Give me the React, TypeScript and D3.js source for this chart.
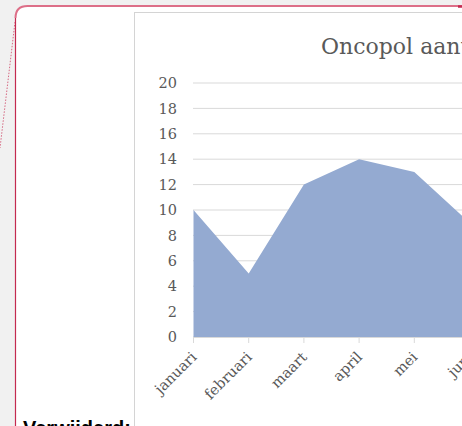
import React from "react";
import * as d3 from "d3";

const months = ["januari", "februari", "maart", "april", "mei", "juni"];
const counts = [10, 5, 12, 14, 13, 9];
const yTicks = [0, 2, 4, 6, 8, 10, 12, 14, 16, 18, 20];
const title = "Oncopol aantallen";
const balloonLabel = "Verwijderd:";

const W = 462;
const H = 426;

export default function App() {
  const x = d3
    .scalePoint<string>()
    .domain(months)
    .range([193.5, 193.5 + 55.2 * (months.length - 1)]);
  const y = d3.scaleLinear().domain([0, 20]).range([337, 83]);

  const area = d3
    .area<number>()
    .x((_, i) => x(months[i]) as number)
    .y0(y(0))
    .y1((d) => y(d));

  const serif = "'DejaVu Serif', serif";

  return (
    <div style={{ position: "fixed", left: 0, top: 0, width: W, height: H, overflow: "hidden" }}>
      <svg width={W} height={H} style={{ display: "block" }}>
        <rect x={0} y={0} width={W} height={H} fill="#f1f1f1" />
        {/* dotted connector */}
        <line x1={15} y1={22} x2={0} y2={148} stroke="#d04868" strokeWidth={1} strokeDasharray="1.5,1.5" opacity={0.8} />
        {/* balloon */}
        <path
          d={`M15.5,${H + 20} L15.5,16 Q15.5,6 25.5,6 L${W + 20},6 L${W + 20},${H + 20} Z`}
          fill="#ffffff"
          stroke="none"
        />
        <path d={`M15.5,${H + 20} L15.5,18`} stroke="#c42a50" strokeWidth={1.2} fill="none" />
        <path d={`M15.5,18 Q15.5,6 27.5,6 L${W + 20},6`} stroke="#dd6f88" strokeWidth={2} fill="none" />
        <line x1={458} y1={6.5} x2={462} y2={6.5} stroke="#c42a50" strokeWidth={2.5} />
        {/* chart box */}
        <rect x={134.5} y={12.5} width={W} height={H} fill="#ffffff" stroke="#d4d4d4" strokeWidth={1} />
        <text x={321} y={54} fontFamily={serif} fontSize={22} fill="#595959">
          {title}
        </text>
        {/* gridlines */}
        {yTicks.map((t) => (
          <line key={t} x1={193} x2={W} y1={y(t)} y2={y(t)} stroke="#d9d9d9" strokeWidth={1} />
        ))}
        {/* area */}
        <path d={area(counts) || ""} fill="#94aad1" />
        {/* x axis */}
        <line x1={193} x2={W} y1={y(0) + 0.5} y2={y(0) + 0.5} stroke="#d9d9d9" strokeWidth={1} />
        {months.map((m) => (
          <line key={m} x1={(x(m) as number)} x2={(x(m) as number)} y1={y(0) + 0.5} y2={y(0) + 6} stroke="#d9d9d9" strokeWidth={1} />
        ))}
        {yTicks.map((t) => (
          <text key={t} x={177} y={y(t)} dy="0.36em" textAnchor="end" fontFamily={serif} fontSize={14.5} fill="#595959">
            {t}
          </text>
        ))}
        {months.map((m) => (
          <text
            key={m}
            transform={`translate(${(x(m) as number) + 4},358) rotate(-45)`}
            textAnchor="end"
            fontFamily={serif}
            fontSize={14.5}
            fill="#595959"
          >
            {m}
          </text>
        ))}
        <text x={23} y={435} fontFamily="'Liberation Sans', sans-serif" fontWeight="bold" fontSize={20} fill="#000000">
          {balloonLabel}
        </text>
      </svg>
    </div>
  );
}
